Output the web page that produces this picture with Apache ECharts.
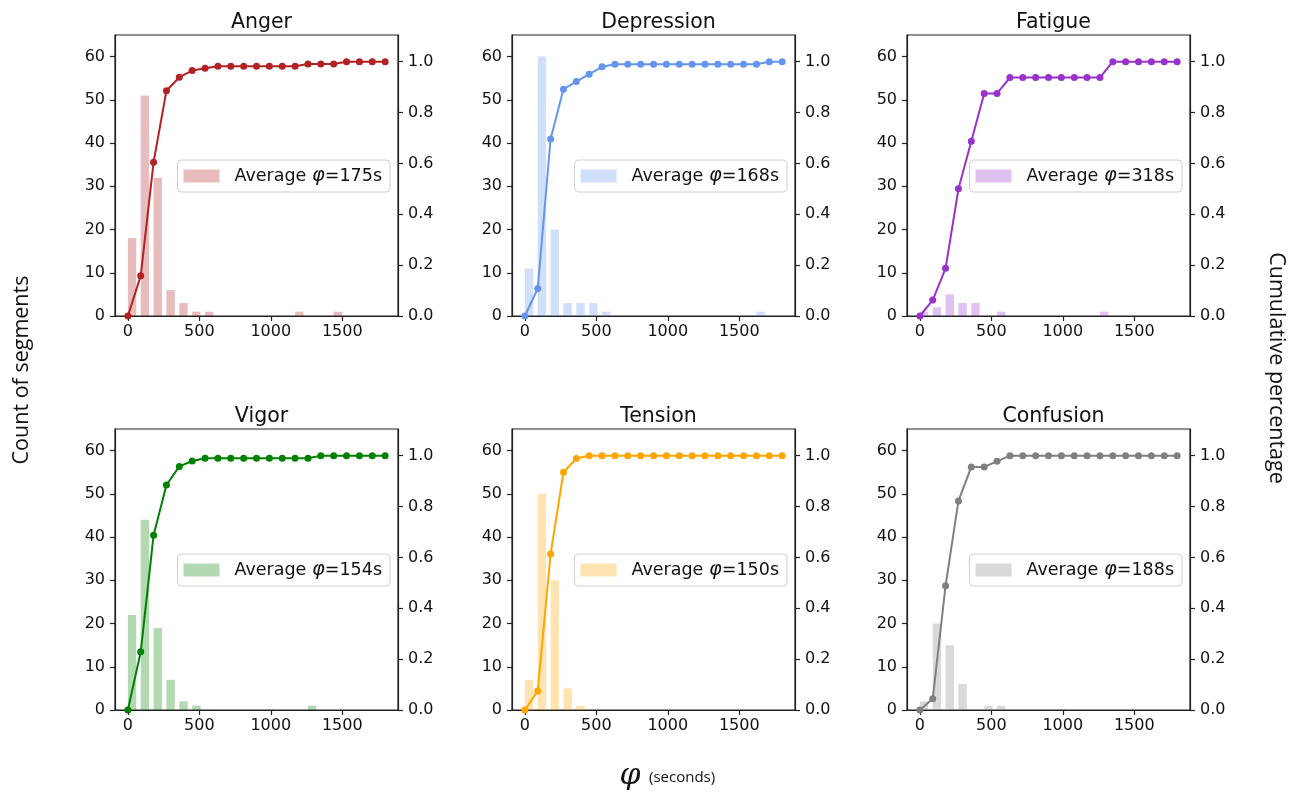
<!DOCTYPE html>
<html>
<head>
<meta charset="utf-8">
<script src="https://cdn.jsdelivr.net/npm/echarts@6/dist/echarts.min.js"></script>
<style>
html,body{margin:0;padding:0;background:#fff;}
#chart{width:1301px;height:792px;}
</style>
</head>
<body>
<div id="chart"></div>
<script>
// ---------- data ----------
const bins = [0, 90, 180, 270, 360, 450, 540, 630, 720, 810, 900, 990, 1080, 1170, 1260, 1350, 1440, 1530, 1620, 1710, 1800];
const panelNames = ['Anger', 'Depression', 'Fatigue', 'Vigor', 'Tension', 'Confusion'];
const averages = [175, 168, 318, 154, 150, 188];

const countsAnger      = [18, 51, 32, 6, 3, 1, 1, 0, 0, 0, 0, 0, 0, 1, 0, 0, 1, 0, 0, 0, 0];
const countsDepression = [11, 60, 20, 3, 3, 3, 1, 0, 0, 0, 0, 0, 0, 0, 0, 0, 0, 0, 1, 0, 0];
const countsFatigue    = [1, 2, 5, 3, 3, 0, 1, 0, 0, 0, 0, 0, 0, 0, 1, 0, 0, 0, 0, 0, 0];
const countsVigor      = [22, 44, 19, 7, 2, 1, 0, 0, 0, 0, 0, 0, 0, 0, 1, 0, 0, 0, 0, 0, 0];
const countsTension    = [7, 50, 30, 5, 1, 0, 0, 0, 0, 0, 0, 0, 0, 0, 0, 0, 0, 0, 0, 0, 0];
const countsConfusion  = [2, 20, 15, 6, 0, 1, 1, 0, 0, 0, 0, 0, 0, 0, 0, 0, 0, 0, 0, 0, 0];

const cumAnger      = [0, 0.158, 0.605, 0.886, 0.939, 0.965, 0.974, 0.982, 0.982, 0.982, 0.982, 0.982, 0.982, 0.982, 0.991, 0.991, 0.991, 1.0, 1.0, 1.0, 1.0];
const cumDepression = [0, 0.108, 0.696, 0.892, 0.922, 0.951, 0.980, 0.990, 0.990, 0.990, 0.990, 0.990, 0.990, 0.990, 0.990, 0.990, 0.990, 0.990, 0.990, 1.0, 1.0];
const cumFatigue    = [0, 0.0625, 0.1875, 0.5, 0.6875, 0.875, 0.875, 0.9375, 0.9375, 0.9375, 0.9375, 0.9375, 0.9375, 0.9375, 0.9375, 1.0, 1.0, 1.0, 1.0, 1.0, 1.0];
const cumVigor      = [0, 0.229, 0.6875, 0.885, 0.958, 0.979, 0.990, 0.990, 0.990, 0.990, 0.990, 0.990, 0.990, 0.990, 0.990, 1.0, 1.0, 1.0, 1.0, 1.0, 1.0];
const cumTension    = [0, 0.075, 0.613, 0.935, 0.989, 1.0, 1.0, 1.0, 1.0, 1.0, 1.0, 1.0, 1.0, 1.0, 1.0, 1.0, 1.0, 1.0, 1.0, 1.0, 1.0];
const cumConfusion  = [0, 0.044, 0.489, 0.822, 0.956, 0.956, 0.978, 1.0, 1.0, 1.0, 1.0, 1.0, 1.0, 1.0, 1.0, 1.0, 1.0, 1.0, 1.0, 1.0, 1.0];

const xTicks = [0, 500, 1000, 1500];
const yLeftTicks = [0, 10, 20, 30, 40, 50, 60];
const yRightTicks = [0, 0.2, 0.4, 0.6, 0.8, 1.0];

// ---------- styles / layout ----------
const counts = [countsAnger, countsDepression, countsFatigue, countsVigor, countsTension, countsConfusion];
const cums = [cumAnger, cumDepression, cumFatigue, cumVigor, cumTension, cumConfusion];
const lineColors = ['#b22222', '#6495ed', '#9932cc', '#008000', '#ffa500', '#808080'];
const barColors = ['rgba(178,34,34,0.3)', 'rgba(100,149,237,0.3)', 'rgba(153,50,204,0.3)', 'rgba(0,128,0,0.3)', 'rgba(255,165,0,0.3)', 'rgba(128,128,128,0.3)'];
const gridPos = [[115, 35], [512, 35], [907, 35], [115, 429], [512, 429], [907, 429]];
const GW = 283, GH = 281;
const BAR_W = 58.5;
const FONT = 'DejaVu Sans';
const AX = '#222';

const option = {
  animation: false,
  backgroundColor: '#fff',
  title: [], grid: [], xAxis: [], yAxis: [], series: [], legend: [],
  graphic: []
};

panelNames.forEach((pn, i) => {
  const [gl, gt] = gridPos[i];
  const legName = 'Average φ=' + averages[i] + 's';
  option.title.push({
    text: pn, left: gl + GW / 2, top: gt - 28, textAlign: 'center',
    textStyle: { fontFamily: FONT, fontSize: 20.5, fontWeight: 'normal', color: '#111' }
  });
  option.grid.push({
    left: gl, top: gt, width: GW, height: GH, show: true,
    borderColor: AX, borderWidth: 1.2, backgroundColor: 'transparent', containLabel: false
  });
  option.xAxis.push({
    type: 'value', gridIndex: i, min: -90, max: 1890,
    splitLine: { show: false },
    axisLine: { show: true, onZero: false, lineStyle: { color: AX, width: 1.2 } },
    axisTick: { show: true, length: 5, customValues: xTicks, lineStyle: { color: AX, width: 1.2 } },
    axisLabel: { customValues: xTicks, margin: 8, fontFamily: FONT, fontSize: 16, color: '#111',
      formatter: v => String(v) }
  });
  option.yAxis.push({
    type: 'value', gridIndex: i, min: 0, max: 65, position: 'left',
    splitLine: { show: false },
    axisLine: { show: true, onZero: false, lineStyle: { color: AX, width: 1.2 } },
    axisTick: { show: true, length: 5, customValues: yLeftTicks, lineStyle: { color: AX, width: 1.2 } },
    axisLabel: { customValues: yLeftTicks, margin: 10, fontFamily: FONT, fontSize: 16, color: '#111',
      formatter: v => String(v) }
  });
  option.yAxis.push({
    type: 'value', gridIndex: i, min: 0, max: 1.105, position: 'right',
    splitLine: { show: false },
    axisLine: { show: true, onZero: false, lineStyle: { color: AX, width: 1.2 } },
    axisTick: { show: true, length: 5, customValues: yRightTicks, lineStyle: { color: AX, width: 1.2 } },
    axisLabel: { customValues: yRightTicks, margin: 10, fontFamily: FONT, fontSize: 16, color: '#111',
      formatter: v => v.toFixed(1) }
  });
  const barData = bins.map((b, k) => [b, counts[i][k]]).filter(d => d[1] > 0);
  option.series.push({
    type: 'custom', name: legName, xAxisIndex: i, yAxisIndex: 2 * i,
    itemStyle: { color: barColors[i] },
    data: barData,
    renderItem: function (params, api) {
      const x0 = api.value(0), v = api.value(1);
      const p1 = api.coord([x0, v]);
      const p2 = api.coord([x0 + BAR_W, 0]);
      return {
        type: 'rect',
        shape: { x: p1[0], y: p1[1], width: p2[0] - p1[0], height: p2[1] - p1[1] },
        style: { fill: barColors[i] }
      };
    },
    z: 1
  });
  option.series.push({
    type: 'line', name: pn + ' cumulative', xAxisIndex: i, yAxisIndex: 2 * i + 1,
    data: bins.map((b, k) => [b, cums[i][k]]),
    symbol: 'circle', symbolSize: 7, showSymbol: true,
    lineStyle: { color: lineColors[i], width: 2 },
    itemStyle: { color: lineColors[i] },
    z: 3
  });
  option.legend.push({
    data: [{ name: legName, icon: 'rect', itemStyle: { color: barColors[i] } }],
    right: 1301 - (gl + GW - 8), top: gt + 125,
    orient: 'horizontal', selectedMode: false,
    itemWidth: 36, itemHeight: 13,
    padding: [6, 8, 6, 6],
    backgroundColor: 'rgba(255,255,255,0.85)', borderColor: '#d0d0d0', borderWidth: 1, borderRadius: 4,
    formatter: name => '{g|}' + name.replace('φ', '{phi|φ}'),
    textStyle: {
      fontFamily: FONT, fontSize: 17.5, color: '#111',
      rich: {
        g: { width: 10 },
        phi: { fontFamily: FONT, fontStyle: 'italic', fontSize: 19.5, color: '#111' }
      }
    }
  });
});

option.graphic = [
  { type: 'text', x: 22, y: 370, rotation: Math.PI / 2,
    style: { text: 'Count of segments', font: '21.5px "Open Sans"', fill: '#111', textAlign: 'center', textVerticalAlign: 'middle' } },
  { type: 'text', x: 1276, y: 368, rotation: -Math.PI / 2,
    style: { text: 'Cumulative percentage', font: '21.5px "Open Sans"', fill: '#111', textAlign: 'center', textVerticalAlign: 'middle' } },
  { type: 'text', x: 630, y: 776,
    style: { text: 'φ', font: 'italic 30px "DejaVu Serif"', fill: '#111', textAlign: 'center', textVerticalAlign: 'middle' } },
  { type: 'text', x: 649, y: 778,
    style: { text: '(seconds)', font: '15px "Open Sans"', fill: '#111', textAlign: 'left', textVerticalAlign: 'middle' } }
];

const chart = echarts.init(document.getElementById('chart'), null, { renderer: 'canvas' });
chart.setOption(option);
</script>
</body>
</html>
